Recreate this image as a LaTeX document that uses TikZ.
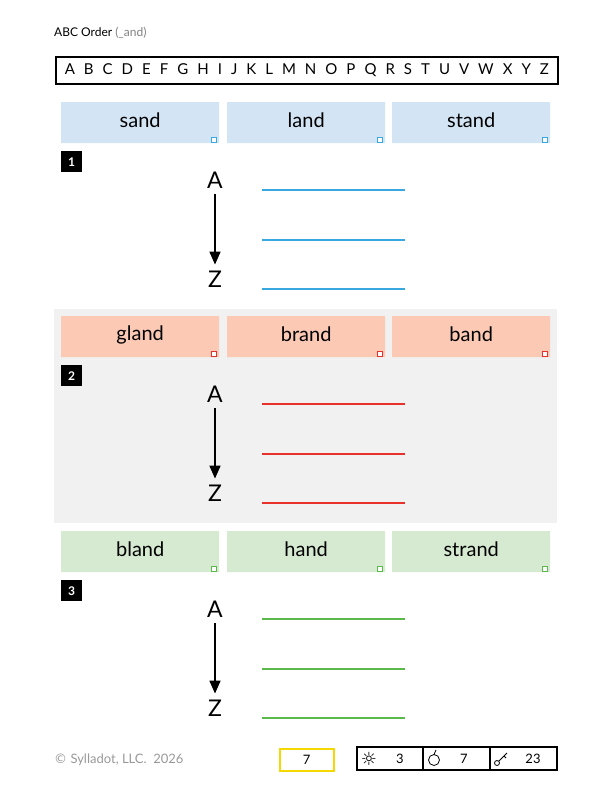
\documentclass[tikz,border=0pt]{standalone}
\usepackage{fontspec}
\setmainfont{Lato}
\newfontfamily\djv{DejaVu Sans}
\usetikzlibrary{arrows.meta,calc}
\definecolor{cb}{HTML}{D3E5F5}\definecolor{lb}{HTML}{3AA8E0}
\definecolor{cr}{HTML}{FCC9B5}\definecolor{lr}{HTML}{E8312A}
\definecolor{cg}{HTML}{D5EAD0}\definecolor{lg}{HTML}{5AB94A}
\definecolor{bgg}{HTML}{F0F1F0}\definecolor{yel}{HTML}{F5D800}
\tikzset{card/.style={draw=none,minimum width=158pt,minimum height=41pt,anchor=north west,font=\fontsize{20}{22}\selectfont,inner sep=0pt},
badge/.style={fill=black,text=white,minimum size=21pt,inner sep=0pt,anchor=north west,font=\bfseries\fontsize{12}{13}\selectfont},
letter/.style={font=\fontsize{23}{25}\selectfont,inner sep=0pt},
foot/.style={inner sep=0pt,font=\fontsize{13}{14}\selectfont}}
\begin{document}
\begin{tikzpicture}[x=1pt,y=-1pt]
\useasboundingbox (0,0) rectangle (612,792);
\node[anchor=west,inner sep=0pt,font=\fontsize{12}{14}\selectfont] (title) at (54,33) {ABC Order \textcolor{gray}{(\_and)}};
\node[draw,line width=1.6pt,minimum width=502pt,minimum height=27pt,anchor=north west,inner sep=0pt,font=\fontsize{15}{16}\selectfont] (abc) at (55,56) {\makebox[484pt][s]{A\hfill B\hfill C\hfill D\hfill E\hfill F\hfill G\hfill H\hfill I\hfill J\hfill K\hfill L\hfill M\hfill N\hfill O\hfill P\hfill Q\hfill R\hfill S\hfill T\hfill U\hfill V\hfill W\hfill X\hfill Y\hfill Z}};
\fill[bgg] (54,309) rectangle (557,523);
\foreach \n/\y/\cc/\lc/\wa/\wb/\wc in {1/102/cb/lb/sand/land/stand, 2/316/cr/lr/gland/brand/band, 3/531/cg/lg/bland/hand/strand}{
  \fill[\cc] (61,\y) rectangle ++(158,41) (227,\y) rectangle ++(158,41) (392,\y) rectangle ++(158,41);
  \node[card] (c\n a) at (61,\y-2) {\wa};
  \node[card] (c\n b) at (227,\y-2) {\wb};
  \node[card] (c\n c) at (392,\y-2) {\wc};
  \foreach \x in {211,377,542}{\draw[\lc,fill=white,line width=0.6pt] (\x,\y+35) rectangle ++(5,5);}
  \node[badge] (b\n) at (61,\y+49) {\n};
  \node[letter] (A\n) at (215,\y+78) {A};
  \node[letter] (Z\n) at (215,\y+177) {Z};
  \draw[line width=1.6pt,-{Triangle[length=13pt,width=11pt]}] ($(A\n.south)+(0,6)$) -- ($(Z\n.north)+(0,-6)$);
  \foreach \k in {88,138,187}{\draw[\lc,line width=1.5pt] (262,\y+\k) -- (405,\y+\k);}
}
\node[anchor=west,inner sep=0pt,text=gray!80,font=\fontsize{13}{14}\selectfont] (copy) at (54,760) {{\djv ©} Sylladot, LLC.\ \ 2026};
\node[draw=yel,line width=1.5pt,minimum width=54pt,minimum height=22pt,anchor=north west,foot] (pg) at (279,748) {7};
\draw[line width=1.5pt] (357,747) rectangle (557,770);
\draw[line width=1.2pt] (423,747) -- (423,770) (490,747) -- (490,770);
\node[inner sep=0pt,font=\djv\fontsize{18}{18}\selectfont] (sun) at (369,758.5) {☼};
\node[foot] (n1) at (400,758.5) {3};
\draw[line width=0.8pt] (434,760) circle (5.5);
\draw[line width=0.8pt] (434,754.5) -- (436,750);
\node[foot] (n2) at (464,758.5) {7};
\draw[line width=0.8pt] (497,763) circle (2.5);
\draw[line width=0.8pt] (499,761) -- (507,753) (504,756) -- (506,758);
\node[foot] (n3) at (533,758.5) {23};
\end{tikzpicture}
\end{document}
